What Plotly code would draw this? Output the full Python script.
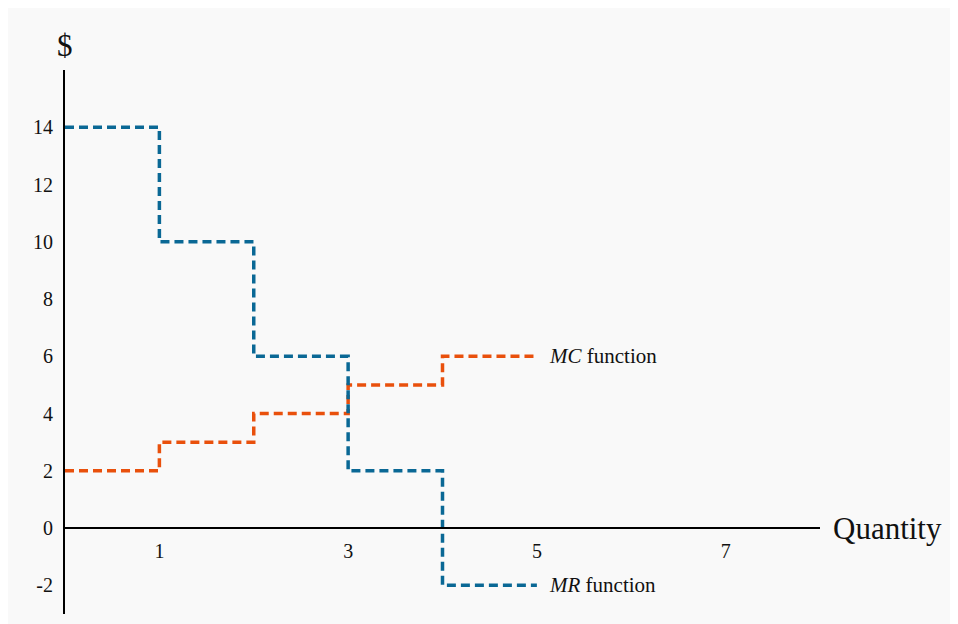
import plotly.graph_objects as go

# Data
quantity = [0, 1, 2, 3, 4, 5]
mc_values = [2, 3, 4, 5, 6, 6]
mr_values = [14, 10, 6, 2, -2, -2]
x_ticks = [1, 3, 5, 7]
y_ticks = [-2, 0, 2, 4, 6, 8, 10, 12, 14]

BLUE = "#0a6895"
ORANGE = "#e9500c"
SERIF = "Liberation Serif, Times New Roman, serif"

fig = go.Figure()
fig.add_trace(go.Scatter(x=quantity, y=mc_values, mode="lines", line_shape="hv",
                         line=dict(color=ORANGE, width=3.5, dash="9px,5px"),
                         showlegend=False, hoverinfo="skip"))
fig.add_trace(go.Scatter(x=quantity, y=mr_values, mode="lines", line_shape="hv",
                         line=dict(color=BLUE, width=3.5, dash="9px,5px"),
                         showlegend=False, hoverinfo="skip"))

y_min, y_max = -3, 16

fig.update_layout(
    width=958, height=624,
    margin=dict(l=57, r=146, t=62, b=18),
    paper_bgcolor="#f9f9f9",
    plot_bgcolor="#f9f9f9",
    font=dict(family=SERIF, size=20, color="#111"),
    xaxis=dict(range=[0, 8], tickvals=x_ticks, ticktext=[str(v) for v in x_ticks],
               showgrid=False, zeroline=False, showline=True, linecolor="black", linewidth=2,
               anchor="free", position=(0 - y_min) / (y_max - y_min),
               ticks="", ticklabelstandoff=5, fixedrange=True),
    yaxis=dict(range=[y_min, y_max], tickvals=y_ticks, ticktext=[str(v) for v in y_ticks],
               showgrid=False, zeroline=False, showline=True, linecolor="black", linewidth=2,
               ticks="", ticklabelstandoff=6, fixedrange=True),
    annotations=[
        dict(x=5, y=mc_values[-1], xref="x", yref="y", text="<i>MC</i> function",
             showarrow=False, xanchor="left", yanchor="middle", xshift=10,
             font=dict(family=SERIF, size=21, color="#111")),
        dict(x=5, y=mr_values[-1], xref="x", yref="y", text="<i>MR</i> function",
             showarrow=False, xanchor="left", yanchor="middle", xshift=10,
             font=dict(family=SERIF, size=21, color="#111")),
        dict(x=0, y=(544 + 25) / 544, xref="x", yref="paper", text="$",
             showarrow=False, xanchor="center", yanchor="middle",
             font=dict(family=SERIF, size=31, color="#111")),
        dict(x=1, y=0, xref="paper", yref="y", text="Quantity",
             showarrow=False, xanchor="left", yanchor="middle", xshift=11,
             font=dict(family=SERIF, size=31, color="#111")),
    ],
)

fig.write_html("out.html")
